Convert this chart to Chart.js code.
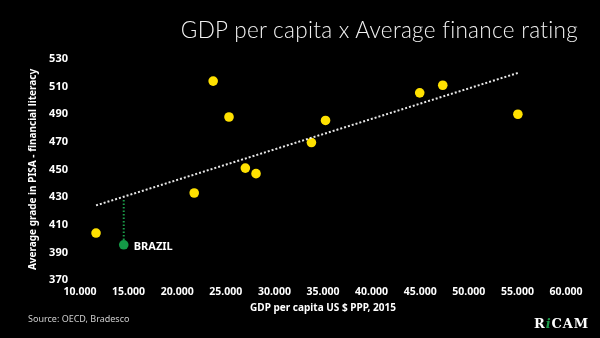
<!DOCTYPE html>
<html>
<head>
<meta charset="utf-8">
<script src="https://cdn.jsdelivr.net/npm/chart.js@4.4.1/dist/chart.umd.min.js"></script>
<style>
  html, body { margin: 0; padding: 0; background: #000; }
  #wrap { position: relative; width: 600px; height: 338px; overflow: hidden; background: #000; }
  #chart { position: absolute; left: 0; top: 0; }
  .title { position: absolute; right: 22px; top: 16px; color: #f2f2f2;
           font: 300 22.5px "Lato", "Roboto", sans-serif; letter-spacing: 0.3px; }
  .source { position: absolute; left: 28px; top: 312px; color: #cfcfcf;
            font: 9px "Noto Sans", sans-serif; }
  .logo { position: absolute; left: 534px; top: 316px; color: #fff;
          font: 900 13px "DejaVu Serif", serif; letter-spacing: 0.9px; }
  .logo i { color: #1a9a48; }
</style>
</head>
<body>
<div id="wrap">
  <canvas id="chart" width="600" height="338"></canvas>
  <div class="title">GDP per capita x Average finance rating</div>
  <div class="source">Source: OECD, Bradesco</div>
  <div class="logo">R<i>i</i>CAM</div>
</div>
<script>
// GDP per capita (US$ PPP) and PISA financial literacy score per country
const gdp    = [11650, 21750, 23700, 25330, 27010, 28110, 33810, 35260, 44950, 47320, 55050];
const scores = [404, 433, 514, 488, 451, 447, 469.5, 485.5, 505.5, 511, 490];

const brazilGdp = 14500;
const brazilScore = 395.5;

// trend line end points and the drop from the trend to Brazil
const trendX = [11650, 55100];
const trendY = [424, 520];
const brazilDropY = [428, 399];

const xTicks = [10000, 15000, 20000, 25000, 30000, 35000, 40000, 45000, 50000, 55000, 60000];
const yTicks = [370, 390, 410, 430, 450, 470, 490, 510, 530];

const countries = gdp.map((g, i) => ({ x: g, y: scores[i] }));
const trend = trendX.map((x, i) => ({ x: x, y: trendY[i] }));
const drop = brazilDropY.map(y => ({ x: brazilGdp, y: y }));

const fmt = v => v.toLocaleString('de-DE', { minimumFractionDigits: 3 }).replace(/,000$/, '');

// label next to the Brazil point
const brazilLabel = {
  id: 'brazilLabel',
  afterDatasetsDraw(chart) {
    const { x, y } = chart.scales;
    const ctx = chart.ctx;
    ctx.save();
    ctx.fillStyle = '#ffffff';
    ctx.font = 'bold 11px "Noto Sans", sans-serif';
    ctx.textBaseline = 'middle';
    ctx.fillText('BRAZIL', x.getPixelForValue(brazilGdp) + 10, y.getPixelForValue(brazilScore) + 2);
    ctx.restore();
  }
};

new Chart(document.getElementById('chart'), {
  type: 'scatter',
  data: {
    datasets: [
      {
        type: 'line', data: trend, borderColor: '#e8e8e8', borderWidth: 2,
        borderDash: [2, 2], pointRadius: 0, fill: false
      },
      {
        type: 'line', data: drop, borderColor: '#1a9a48', borderWidth: 2,
        borderDash: [1.5, 2], pointRadius: 0, fill: false
      },
      {
        data: countries, backgroundColor: '#ffe100', borderWidth: 0, pointRadius: 4.8
      },
      {
        data: [{ x: brazilGdp, y: brazilScore }], backgroundColor: '#149a47', borderWidth: 0, pointRadius: 4.8
      }
    ]
  },
  options: {
    responsive: false,
    animation: false,
    layout: { padding: { left: 27, right: 34, top: 59, bottom: 24 } },
    plugins: { legend: { display: false }, tooltip: { enabled: false } },
    scales: {
      x: {
        type: 'linear', min: 10000, max: 60000,
        afterBuildTicks: s => { s.ticks = xTicks.map(v => ({ value: v })); },
        afterFit: s => { s.height = 34; },
        grid: { display: false, drawTicks: false },
        border: { display: false },
        ticks: { color: '#ffffff', padding: 6, maxRotation: 0, autoSkip: false,
                 font: { family: '"Noto Sans", sans-serif', size: 10.5, weight: 'bold' },
                 callback: v => fmt(v) },
        title: { display: true, text: 'GDP per capita US $ PPP, 2015', color: '#ffffff',
                 padding: 0, font: { family: '"Noto Sans", sans-serif', size: 10, weight: 'bold' } }
      },
      y: {
        type: 'linear', min: 370, max: 530,
        afterBuildTicks: s => { s.ticks = yTicks.map(v => ({ value: v })); },
        afterFit: s => { s.width = 53; },
        grid: { display: false, drawTicks: false },
        border: { display: false },
        ticks: { color: '#ffffff', padding: 12, autoSkip: false,
                 font: { family: '"Noto Sans", sans-serif', size: 11, weight: 'bold' } },
        title: { display: true, text: 'Average grade in PISA - financial literacy', color: '#ffffff',
                 padding: 0, font: { family: '"Noto Sans", sans-serif', size: 10, weight: 'bold' } }
      }
    }
  },
  plugins: [brazilLabel]
});
</script>
</body>
</html>
